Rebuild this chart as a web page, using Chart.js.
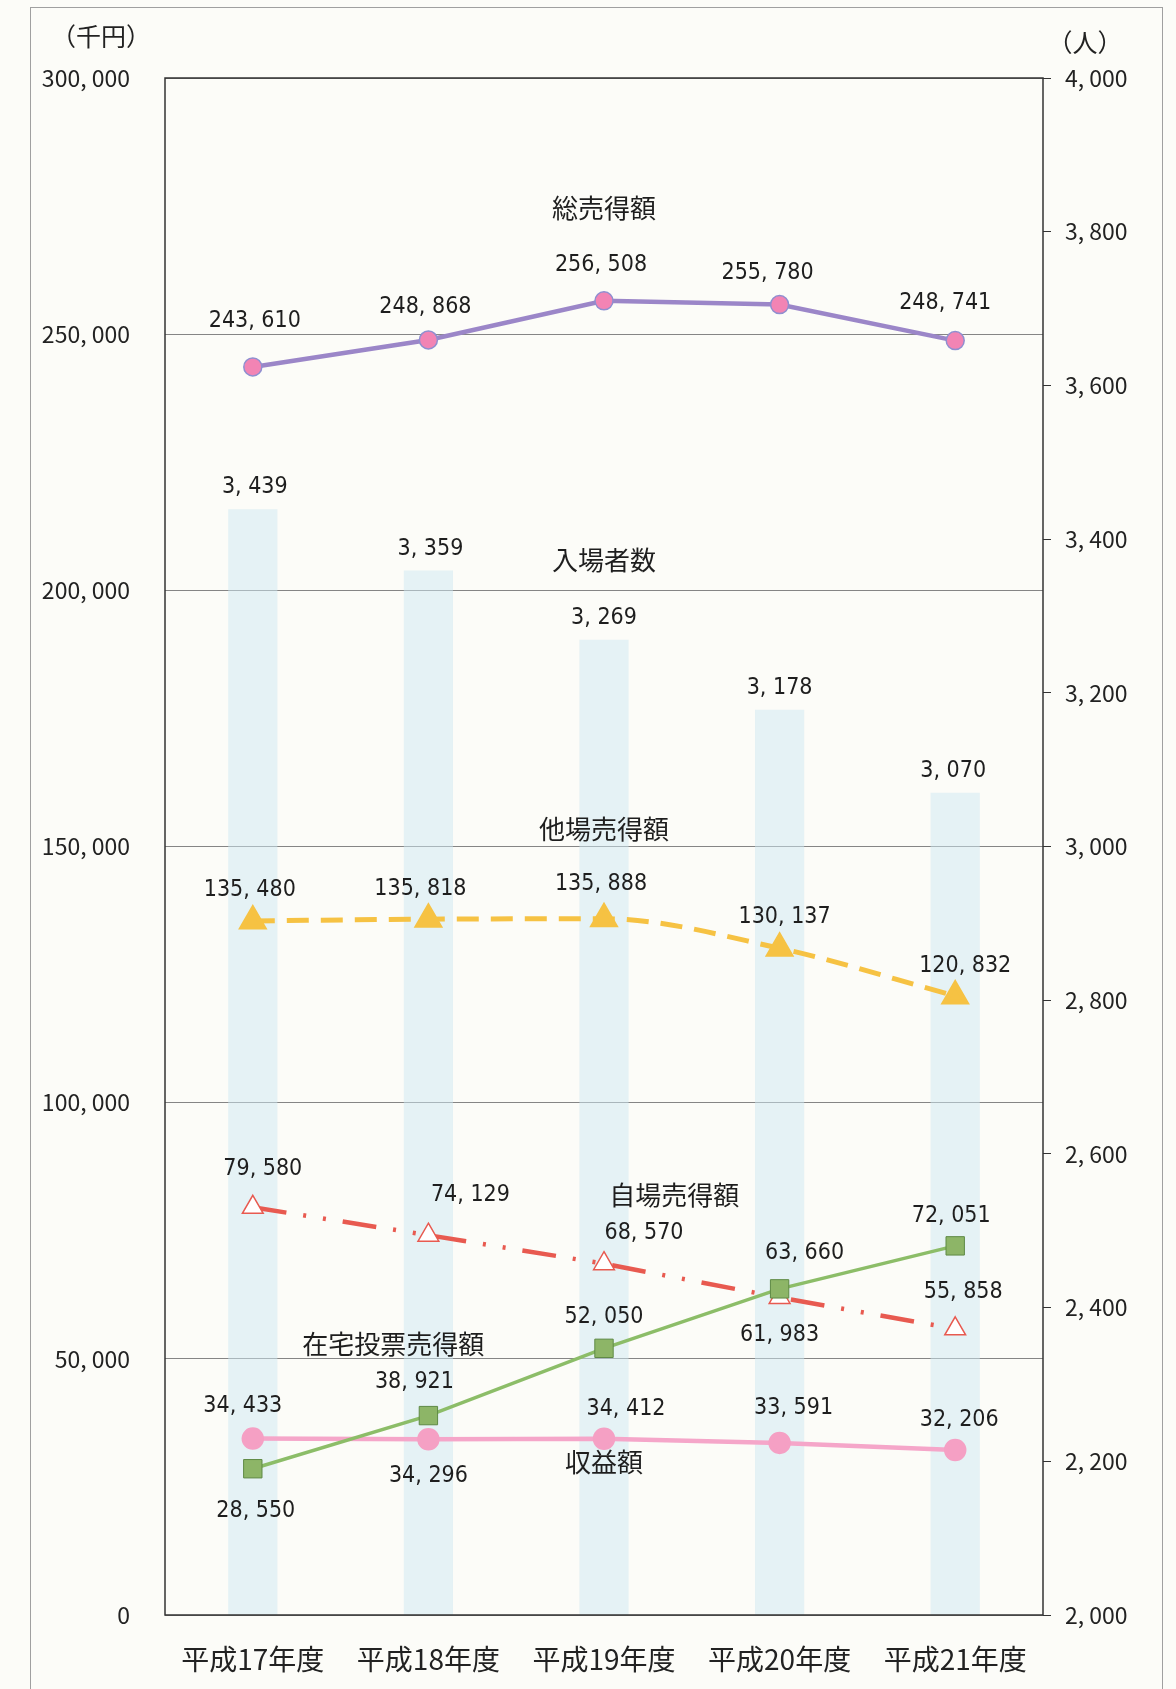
<!DOCTYPE html>
<html lang="ja">
<head>
<meta charset="utf-8">
<script src="https://cdn.jsdelivr.net/npm/chart.js@4.4.1/dist/chart.umd.min.js"></script>
<style>
  html, body { margin: 0; padding: 0; background: #fcfcf8; }
  #wrap { width: 1176px; height: 1689px; }
</style>
</head>
<body>
<div id="wrap"><canvas id="salesChart" width="1176" height="1689"></canvas></div>
<script>
// values
const years = ['平成17年度', '平成18年度', '平成19年度', '平成20年度', '平成21年度'];
const attendance = [3439, 3359, 3269, 3178, 3070];          // 入場者数 (人)
const totalSales = [243610, 248868, 256508, 255780, 248741]; // 総売得額 (千円)
const otherSales = [135480, 135818, 135888, 130137, 120832]; // 他場売得額
const ownSales = [79580, 74129, 68570, 61983, 55858];        // 自場売得額
const homeSales = [28550, 38921, 52050, 63660, 72051];       // 在宅投票売得額
const profit = [34433, 34296, 34412, 33591, 32206];          // 収益額

const seriesNames = ['総売得額', '入場者数', '他場売得額', '自場売得額', '在宅投票売得額', '収益額'];

// where the series names sit, in axis units [category index, 千円]
const nameAnchors = [[2, 274600], [2, 205900], [2, 153400], [2.4, 82000], [0.8, 52900], [2, 29900]];

// value label offsets from each point, in px
const labelShift = {
  '入場者数': [[2, -22], [2, -22], [0, -22], [0, -22], [-2, -22]],
  '総売得額': [[2, -46], [-3, -33], [-3, -36], [-12, -32], [-10, -38]],
  '他場売得額': [[-3, -31], [-8, -30], [-3, -35], [5, -31], [10, -30]],
  '自場売得額': [[10, -38], [42, -40], [40, -31], [0, 38], [8, -37]],
  '在宅投票売得額': [[3, 42], [-14, -34], [0, -31], [25, -36], [-4, -30]],
  '収益額': [[-10, -33], [0, 37], [22, -30], [14, -35], [4, -30]]
};

const fmt = v => v.toLocaleString('en-US').replace(',', ', ');
const jpFont = '"Noto Sans CJK JP", "Noto Sans", sans-serif';
const numFont = '"DejaVu Sans Condensed", "Liberation Sans Narrow", "Liberation Sans", sans-serif';

const framePlugin = {
  id: 'frame',
  beforeDraw(chart) {
    const ctx = chart.ctx;
    ctx.save();
    ctx.strokeStyle = '#a0a0a0';
    ctx.lineWidth = 1;
    ctx.strokeRect(30.5, 7.5, 1132, 1720);
    ctx.restore();
  },
  afterDraw(chart) {
    const ctx = chart.ctx;
    const a = chart.chartArea;
    ctx.save();
    ctx.strokeStyle = '#333';
    ctx.lineWidth = 1.5;
    ctx.strokeRect(a.left, a.top, a.right - a.left, a.bottom - a.top);
    ctx.fillStyle = '#222';
    ctx.font = '25px ' + jpFont;
    ctx.textAlign = 'center';
    ctx.textBaseline = 'middle';
    ctx.fillText('（千円）', a.left - 64, a.top - 42);
    ctx.fillText('（人）', a.right + 42, a.top - 36);
    ctx.restore();
  }
};

const labelPlugin = {
  id: 'valueLabels',
  afterDatasetsDraw(chart) {
    const ctx = chart.ctx;
    const sx = chart.scales.x, sy = chart.scales.y;
    ctx.save();
    ctx.fillStyle = '#1e1e1e';
    ctx.textAlign = 'center';
    ctx.textBaseline = 'middle';
    ctx.font = '23px ' + numFont;
    chart.data.datasets.forEach((ds, i) => {
      const shifts = labelShift[ds.label];
      if (!shifts) return;
      chart.getDatasetMeta(i).data.forEach((el, j) => {
        ctx.fillText(fmt(ds.data[j]), el.x + shifts[j][0], el.y + shifts[j][1]);
      });
    });
    ctx.font = '26px ' + jpFont;
    seriesNames.forEach((name, k) => {
      ctx.fillText(name, sx.getPixelForValue(nameAnchors[k][0]), sy.getPixelForValue(nameAnchors[k][1]));
    });
    ctx.restore();
  }
};

const data = {
  labels: years,
  datasets: [
    {
      type: 'line',
      label: '在宅投票売得額',
      data: homeSales,
      yAxisID: 'y',
      borderColor: '#8cbd68',
      borderWidth: 3.5,
      pointStyle: 'rect',
      pointRadius: 13,
      pointBackgroundColor: '#8db567',
      pointBorderColor: '#5f8a45',
      pointBorderWidth: 1,
      order: 0
    },
    {
      type: 'line',
      label: '収益額',
      data: profit,
      yAxisID: 'y',
      borderColor: '#f5a6c9',
      borderWidth: 4.5,
      pointStyle: 'circle',
      pointRadius: 9,
      pointBackgroundColor: '#f5a0c4',
      pointBorderColor: '#f5a0c4',
      order: 1
    },
    {
      type: 'line',
      label: '自場売得額',
      data: ownSales,
      yAxisID: 'y',
      borderColor: '#e85a50',
      borderWidth: 4.5,
      borderDash: [34, 17, 3, 17, 3, 17],
      pointStyle: 'triangle',
      pointRadius: 12,
      pointBackgroundColor: '#ffffff',
      pointBorderColor: '#e85a50',
      pointBorderWidth: 1.5,
      order: 2
    },
    {
      type: 'line',
      label: '他場売得額',
      data: otherSales,
      yAxisID: 'y',
      borderColor: '#f6c243',
      borderWidth: 5,
      borderDash: [22, 12],
      cubicInterpolationMode: 'monotone',
      pointStyle: 'triangle',
      pointRadius: 12,
      pointBackgroundColor: '#f6c243',
      pointBorderColor: '#f6c243',
      order: 3
    },
    {
      type: 'line',
      label: '総売得額',
      data: totalSales,
      yAxisID: 'y',
      borderColor: '#9b86c8',
      borderWidth: 4.5,
      pointStyle: 'circle',
      pointRadius: 9,
      pointBackgroundColor: '#f284b4',
      pointBorderColor: '#8f8fd0',
      pointBorderWidth: 1.5,
      order: 4
    },
    {
      type: 'bar',
      label: '入場者数',
      data: attendance,
      yAxisID: 'y1',
      backgroundColor: 'rgba(205, 232, 242, 0.5)',
      barPercentage: 0.28,
      categoryPercentage: 1.0,
      order: 10
    }
  ]
};

const config = {
  data: data,
  options: {
    responsive: false,
    animation: false,
    layout: { padding: { top: 78, left: 0, right: 0, bottom: 0 } },
    plugins: {
      legend: { display: false },
      tooltip: { enabled: false }
    },
    scales: {
      x: {
        type: 'category',
        grid: { display: false, drawTicks: false },
        border: { display: false },
        ticks: {
          color: '#222',
          font: { size: 28 },
          padding: 28,
          maxRotation: 0
        },
        afterFit(s) { s.height = 74; }
      },
      y: {
        position: 'left',
        min: 0,
        max: 300000,
        ticks: {
          stepSize: 50000,
          callback: v => fmt(v),
          color: '#222',
          font: { size: 23 },
          padding: 35
        },
        grid: { color: '#858585', lineWidth: 1, drawTicks: false },
        border: { display: false },
        afterFit(s) { s.width = 165; }
      },
      y1: {
        position: 'right',
        min: 2000,
        max: 4000,
        ticks: {
          stepSize: 200,
          callback: v => fmt(v),
          color: '#222',
          font: { size: 23 },
          padding: 14
        },
        grid: { drawOnChartArea: false, drawTicks: true, tickLength: 8, color: '#333', tickColor: '#333' },
        border: { display: false },
        afterFit(s) { s.width = 133; }
      }
    }
  },
  plugins: [framePlugin, labelPlugin]
};

Chart.defaults.font.family = jpFont;
const salesChart = new Chart(document.getElementById('salesChart').getContext('2d'), config);
</script>
</body>
</html>
